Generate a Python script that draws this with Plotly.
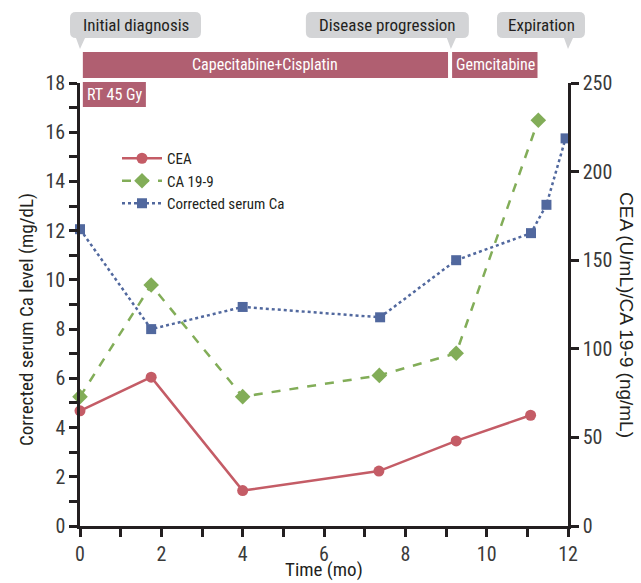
import plotly.graph_objects as go

# ---------------- data ----------------
cea_time = [0, 1.75, 4.0, 7.35, 9.25, 11.08]
cea_vals = [65, 84, 20, 31, 48, 62.5]

ca199_time = [0, 1.75, 4.0, 7.36, 9.25, 11.27]
ca199_vals = [73, 136, 73, 85, 97.5, 229]

ca_time = [0, 1.75, 4.0, 7.38, 9.25, 11.09, 11.47, 11.94]
ca_vals = [12.06, 8.0, 8.9, 8.48, 10.8, 11.9, 13.05, 15.75]

x_ticks = [0, 2, 4, 6, 8, 10, 12]
left_ticks = [0, 2, 4, 6, 8, 10, 12, 14, 16, 18]
right_ticks = [0, 50, 100, 150, 200, 250]

treat_names = ["Capecitabine+Cisplatin", "Gemcitabine", "RT 45 Gy"]
treat_start = [0.07, 9.15, 0.07]
treat_end = [9.05, 11.25, 1.62]

event_names = ["Initial diagnosis", "Disease progression", "Expiration"]
event_times = [0, 9.12, 12]

# ---------------- style ----------------
W, H = 641, 583
ML, MR, MT, MB = 80, 73, 83, 57
PW, PH = W - ML - MR, H - MT - MB
FONT = "Roboto Condensed, Liberation Sans Narrow, sans-serif"
FONT_WIDE = "Liberation Sans, Arial, sans-serif"
RED = "#c45c66"
GREEN = "#82ad58"
BLUE = "#51689e"
BAR = "#b05f71"
GRAY = "#d3d4d6"
AX = "#231f20"
TXT = "#3a3a3a"

XMAX = 12.0


def px_x(t):
    return ML + t / XMAX * PW


def to_px(px):
    return (px - ML) / PW


def to_py(py):
    return (H - MB - py) / PH


fig = go.Figure()

fig.add_trace(go.Scatter(
    x=cea_time, y=cea_vals, name="CEA", yaxis="y2", mode="lines+markers",
    line=dict(color=RED, width=2.5), marker=dict(symbol="circle", size=11, color=RED),
    cliponaxis=False))
fig.add_trace(go.Scatter(
    x=ca199_time, y=ca199_vals, name="CA 19-9", yaxis="y2", mode="lines+markers",
    line=dict(color=GREEN, width=2.5, dash="dash"),
    marker=dict(symbol="diamond", size=12, color=GREEN), cliponaxis=False))
fig.add_trace(go.Scatter(
    x=ca_time, y=ca_vals, name="Corrected serum Ca", yaxis="y", mode="lines+markers",
    line=dict(color=BLUE, width=2.5, dash="dot"),
    marker=dict(symbol="square", size=10, color=BLUE), cliponaxis=False))

shapes = []
annotations = []

# treatment bars
bar_rows = [(52, 78), (52, 78), (82, 107)]
for name, s, e, (ytop, ybot) in zip(treat_names, treat_start, treat_end, bar_rows):
    x0, x1 = to_px(px_x(s)), to_px(px_x(e))
    shapes.append(dict(type="rect", xref="paper", yref="paper", x0=x0, x1=x1,
                       y0=to_py(ybot), y1=to_py(ytop), fillcolor=BAR, line=dict(width=0),
                       layer="above"))
    if name.startswith("Capecitabine"):
        annotations.append(dict(xref="paper", yref="paper", x=(x0 + x1) / 2,
                                y=to_py((ytop + ybot) / 2), text=name, showarrow=False,
                                font=dict(color="white", size=16, family=FONT),
                                xanchor="center", yanchor="middle"))
    else:
        annotations.append(dict(xref="paper", yref="paper", x=x0 + to_px(ML + 2),
                                y=to_py((ytop + ybot) / 2), text=name, showarrow=False,
                                font=dict(color="white", size=16, family=FONT),
                                xanchor="left", yanchor="middle"))

# event callouts (rounded box + pointer)
box_offsets = [(-10, 121), (-145, 18), (-71, 17)]
BT, BB, TIP, R = 12, 38, 49, 6
for name, t, (o0, o1) in zip(event_names, event_times, box_offsets):
    p = px_x(t)
    l, r = p + o0, p + o1

    def P(x, y):
        return f"{to_px(x):.5f},{to_py(y):.5f}"
    path = (f"M {P(l + R, BT)} L {P(r - R, BT)} Q {P(r, BT)} {P(r, BT + R)} "
            f"L {P(r, BB - R)} Q {P(r, BB)} {P(r - R, BB)} "
            f"L {P(p + 5, BB)} L {P(p, TIP)} L {P(p - 4, BB)} "
            f"L {P(l + R, BB)} Q {P(l, BB)} {P(l, BB - R)} "
            f"L {P(l, BT + R)} Q {P(l, BT)} {P(l + R, BT)} Z")
    shapes.append(dict(type="path", xref="paper", yref="paper", path=path,
                       fillcolor=GRAY, line=dict(width=0), layer="above"))
    annotations.append(dict(xref="paper", yref="paper", x=to_px((l + r) / 2),
                            y=to_py((BT + BB) / 2), text=name, showarrow=False,
                            font=dict(color=AX, size=17, family=FONT),
                            xanchor="center", yanchor="middle"))

# axis titles
annotations.append(dict(xref="paper", yref="paper", x=to_px(627), y=to_py(315),
                        text="CEA (U/mL)/CA 19-9 (ng/mL)", showarrow=False, textangle=90,
                        font=dict(color=AX, size=19, family=FONT_WIDE),
                        xanchor="center", yanchor="middle"))
annotations.append(dict(xref="paper", yref="paper", x=to_px(26), y=to_py(320),
                        text="Corrected serum Ca level (mg/dL)", showarrow=False, textangle=-90,
                        font=dict(color=AX, size=19, family=FONT),
                        xanchor="center", yanchor="middle"))
annotations.append(dict(xref="paper", yref="paper", x=0.5, y=to_py(583),
                        text="Time (mo)", showarrow=False,
                        font=dict(color=AX, size=19, family=FONT),
                        xanchor="center", yanchor="bottom"))

axis_common = dict(showgrid=False, zeroline=False, showline=True, linecolor=AX, linewidth=2.5,
                   ticks="outside", ticklen=8, tickwidth=2.5, tickcolor=AX, automargin=False,
                   tickfont=dict(size=20, color=TXT, family=FONT))

fig.update_layout(
    width=W, height=H, margin=dict(l=ML, r=MR, t=MT, b=MB),
    paper_bgcolor="white", plot_bgcolor="white",
    font=dict(family=FONT, color=AX),
    xaxis=dict(range=[0, XMAX], tickvals=x_ticks, **axis_common,
               minor=dict(dtick=1, ticks="outside", ticklen=8, tickwidth=2.5, tickcolor=AX)),
    yaxis=dict(range=[0, 18], tickvals=left_ticks, **axis_common,
               minor=dict(dtick=1, ticks="outside", ticklen=8, tickwidth=2.5, tickcolor=AX)),
    yaxis2=dict(range=[0, 250], tickvals=right_ticks, overlaying="y", side="right",
                **axis_common),
    legend=dict(x=to_px(117), y=to_py(142), xanchor="left", yanchor="top",
                bgcolor="rgba(0,0,0,0)", font=dict(size=15, family=FONT, color=AX),
                itemwidth=40, tracegroupgap=0),
    shapes=shapes, annotations=annotations,
)

fig.write_html("out.html", config={"displayModeBar": False},
               post_script="document.body.style.margin='0px';")
